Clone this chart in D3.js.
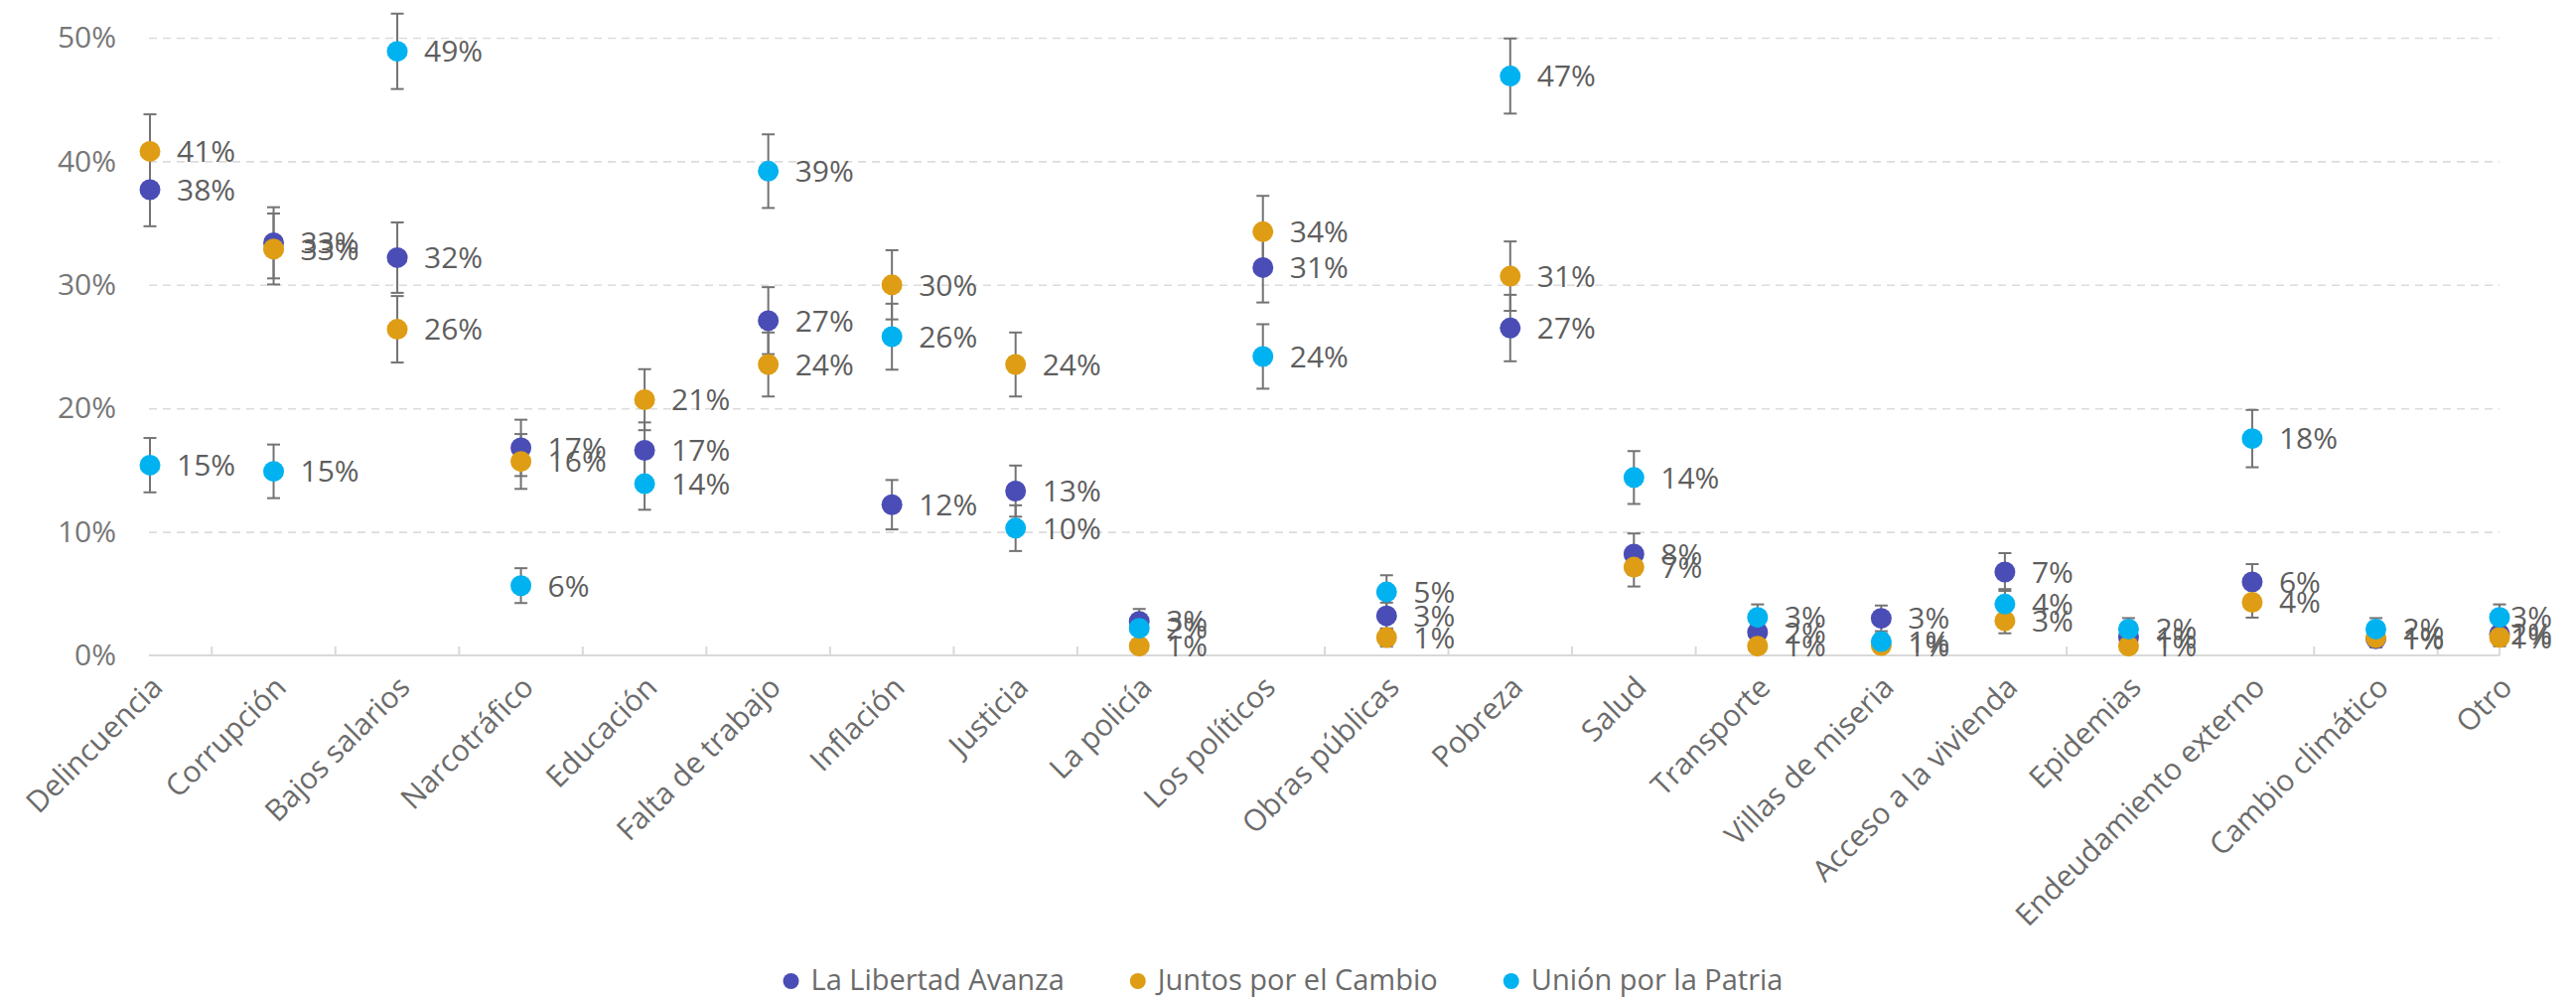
<!DOCTYPE html>
<html>
<head>
<meta charset="utf-8">
<script src="https://cdn.jsdelivr.net/npm/d3@7"></script>
<style>
  html, body { margin: 0; padding: 0; background: #fff; }
  svg { display: block; font-family: "Segoe UI", "Open Sans", "Noto Sans", sans-serif; }
</style>
</head>
<body>
<svg id="chart" width="2594" height="1006"></svg>
<script>
// ---- data ----
const categories = ["Delincuencia", "Corrupción", "Bajos salarios", "Narcotráfico", "Educación",
  "Falta de trabajo", "Inflación", "Justicia", "La policía", "Los políticos", "Obras públicas",
  "Pobreza", "Salud", "Transporte", "Villas de miseria", "Acceso a la vivienda", "Epidemias",
  "Endeudamiento externo", "Cambio climático", "Otro"];

const seriesNames = ["La Libertad Avanza", "Juntos por el Cambio", "Unión por la Patria"];

const llaValues = [37.7, 33.4, 32.2, 16.8, 16.6, 27.1, 12.2, 13.3, 2.76, 31.4, 3.2, 26.5, 8.2, 1.87, 3.0, 6.75, 1.47, 5.95, 1.34, 1.74];
const jxcValues = [40.8, 32.9, 26.4, 15.7, 20.7, 23.55, 30.0, 23.55, 0.75, 34.3, 1.45, 30.7, 7.15, 0.75, 0.8, 2.8, 0.75, 4.3, 1.42, 1.47];
const uxpValues = [15.4, 14.9, 48.9, 5.65, 13.9, 39.2, 25.8, 10.3, 2.2, 24.2, 5.14, 46.9, 14.4, 3.08, 1.12, 4.15, 2.14, 17.55, 2.14, 3.08];

// error bar half-widths (percentage points)
const llaErrors = [2.96, 2.88, 2.85, 2.28, 2.26, 2.71, 2.0, 2.07, 1.0, 2.83, 1.07, 2.69, 1.67, 0.83, 1.04, 1.53, 0.73, 1.44, 0.70, 0.80];
const jxcErrors = [3.0, 2.87, 2.69, 2.22, 2.47, 2.59, 2.80, 2.59, 0.53, 2.9, 0.74, 2.81, 1.57, 0.53, 0.54, 1.01, 0.53, 1.24, 0.72, 0.73];
const uxpErrors = [2.2, 2.17, 3.05, 1.41, 2.11, 2.98, 2.67, 1.85, 0.89, 2.61, 1.35, 3.04, 2.14, 1.05, 0.64, 1.22, 0.88, 2.32, 0.88, 1.05];

const yTicks = [0, 10, 20, 30, 40, 50];
const colors = ["#4A4DB5", "#DE9D14", "#00B2F0"];

// ---- layout ----
const svg = d3.select("#chart");
const plot = { left: 151, right: 2517, top: 38, bottom: 660 };

const x = d3.scalePoint().domain(categories).range([plot.left, plot.right]).padding(0);
const y = d3.scaleLinear().domain([0, 50]).range([plot.bottom, plot.top]);

const series = [
  { name: seriesNames[0], values: llaValues, errors: llaErrors, color: colors[0] },
  { name: seriesNames[1], values: jxcValues, errors: jxcErrors, color: colors[1] },
  { name: seriesNames[2], values: uxpValues, errors: uxpErrors, color: colors[2] }
];

// gridlines
const grid = svg.append("g")
  .attr("transform", `translate(${plot.left - 1},0)`)
  .call(d3.axisLeft(y).tickValues(yTicks.filter(t => t > 0)).tickSize(-(plot.right - plot.left + 1)).tickFormat(""));
grid.select(".domain").remove();
grid.selectAll("line").attr("stroke", "#dcdcdc").attr("stroke-width", 1.6).attr("stroke-dasharray", "8,6");

// y axis labels
const yAxis = svg.append("g")
  .attr("transform", `translate(${plot.left - 1},0)`)
  .call(d3.axisLeft(y).tickValues(yTicks).tickSize(0).tickPadding(33).tickFormat(d => d + "%"));
yAxis.attr("font-family", null).attr("font-size", null);
yAxis.select(".domain").remove();
yAxis.selectAll("text").attr("font-size", 30).attr("fill", "#777");

// x axis baseline
const xAxis = svg.append("g")
  .attr("transform", `translate(0,${plot.bottom})`)
  .call(d3.axisBottom(x).tickSize(0).tickPadding(0));
xAxis.attr("font-family", null).attr("font-size", null);
xAxis.select(".domain").attr("stroke", "#d9d9d9").attr("stroke-width", 2.2)
  .attr("d", `M${plot.left - 1},0H${plot.right}`);
xAxis.selectAll(".tick text")
  .attr("font-size", 30)
  .attr("fill", "#6b6b6b")
  .attr("text-anchor", "end")
  .attr("dy", 0)
  .attr("transform", "translate(14,34) rotate(-45)");

// tick marks between categories
const step = x.step();
const tickPos = d3.range(categories.length - 1).map(i => x(categories[i]) + step / 2).concat([plot.right]);
svg.append("g").selectAll("line").data(tickPos).join("line")
  .attr("x1", d => d).attr("x2", d => d)
  .attr("y1", plot.bottom).attr("y2", plot.bottom - 9)
  .attr("stroke", "#d9d9d9").attr("stroke-width", 2);

// error bars
const errG = svg.append("g");
series.forEach(s => {
  categories.forEach((c, i) => {
    const cx = x(c), v = s.values[i], e = s.errors[i];
    const y1 = y(v + e), y2 = y(Math.max(0, v - e));
    errG.append("line").attr("x1", cx).attr("x2", cx).attr("y1", y1).attr("y2", y2)
      .attr("stroke", "#737373").attr("stroke-width", 2);
    [y1, y2].forEach(yy => errG.append("line").attr("x1", cx - 6.5).attr("x2", cx + 6.5)
      .attr("y1", yy).attr("y2", yy).attr("stroke", "#737373").attr("stroke-width", 2));
  });
});

// points
series.forEach(s => {
  svg.append("g").selectAll("circle").data(categories).join("circle")
    .attr("cx", c => x(c))
    .attr("cy", (c, i) => y(s.values[i]))
    .attr("r", 10.5)
    .attr("fill", s.color);
});

// data labels
const labG = svg.append("g");
series.forEach(s => {
  categories.forEach((c, i) => {
    const t = labG.append("text")
      .attr("y", y(s.values[i]))
      .attr("dy", "0.36em")
      .attr("font-size", 30)
      .attr("fill", "#5e5e5e")
      .text(Math.round(s.values[i]) + "%");
    const w = t.node().getComputedTextLength();
    t.attr("x", Math.min(x(c) + 27, 2570 - w));
  });
});

// legend
const legG = svg.append("g");
const items = series.map(s => {
  const t = legG.append("text").attr("font-size", 29).attr("fill", "#6b6b6b").attr("y", 997).text(s.name);
  return { s, t, w: t.node().getComputedTextLength() };
});
const gapMarkerText = 20, gapItems = 66, mr = 8;
const total = d3.sum(items, d => mr + gapMarkerText + d.w) + gapItems * (items.length - 1);
let lx = 1292 - total / 2;
items.forEach(d => {
  legG.append("circle").attr("cx", lx + mr).attr("cy", 988).attr("r", mr).attr("fill", d.s.color);
  d.t.attr("x", lx + mr + gapMarkerText);
  lx += mr + gapMarkerText + d.w + gapItems;
});
</script>
</body>
</html>
